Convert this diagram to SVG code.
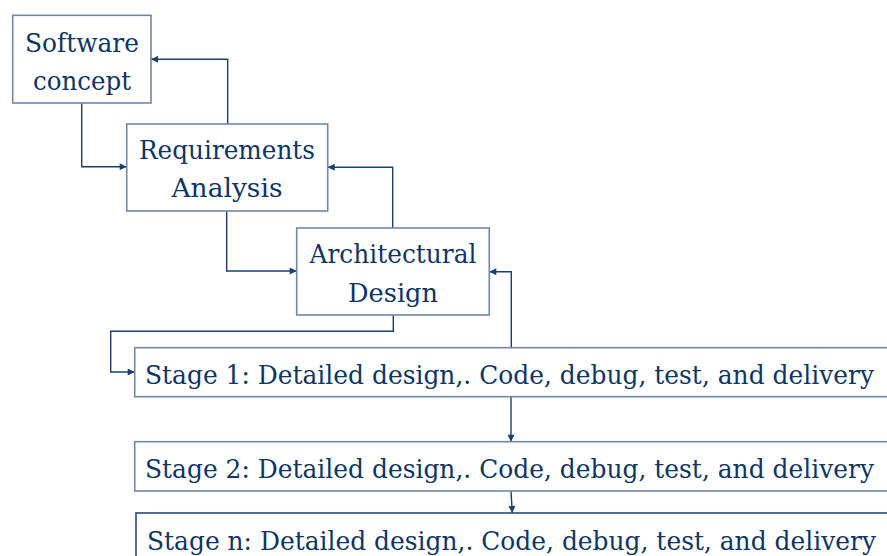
<svg xmlns="http://www.w3.org/2000/svg" width="887" height="556" viewBox="0 0 887 556">
  <style>
    .box { fill: #ffffff; stroke: #7088a8; stroke-width: 1.6; }
    .box-dark { fill: #ffffff; stroke: #284a78; stroke-width: 1.6; }
    .label { font-family: 'DejaVu Serif', 'Liberation Serif', serif; font-size: 25.3px; fill: #0e3564; }
    .mid { text-anchor: middle; }
    .conn { fill: none; stroke: #1a3f6c; stroke-width: 1.4; }
  </style>
  <defs>
    <marker id="arrow" viewBox="0 0 10 10" refX="10" refY="5" markerWidth="9" markerHeight="7" markerUnits="userSpaceOnUse" orient="auto">
      <path d="M0,0 L10,5 L0,10 z" fill="#1a3f6c"/>
    </marker>
  </defs>
  <rect width="887" height="556" fill="#ffffff"/>

  <g id="connectors">
    <path class="conn" d="M81.7,103 V166.7 H126.7" marker-end="url(#arrow)"/>
    <path class="conn" d="M227.7,124 V59.3 H151" marker-end="url(#arrow)"/>
    <path class="conn" d="M226.7,211 V271 H296.7" marker-end="url(#arrow)"/>
    <path class="conn" d="M392.7,228 V167.3 H327.7" marker-end="url(#arrow)"/>
    <path class="conn" d="M393.3,315 V331.3 H110.7 V372 H134.7" marker-end="url(#arrow)"/>
    <path class="conn" d="M511.3,347.7 V271.7 H489.3" marker-end="url(#arrow)"/>
    <path class="conn" d="M511,396.7 V441.7" marker-end="url(#arrow)"/>
    <path class="conn" d="M511,491 L512.3,513" marker-end="url(#arrow)"/>
  </g>

  <g id="software-concept">
    <rect class="box" x="12.7" y="15.3" width="138.3" height="87.7"/>
    <text class="label mid" x="82" y="52.3" textLength="114" lengthAdjust="spacingAndGlyphs">Software</text>
    <text class="label mid" x="82" y="90" textLength="98" lengthAdjust="spacingAndGlyphs">concept</text>
  </g>

  <g id="requirements-analysis">
    <rect class="box" x="126.7" y="124" width="201" height="87"/>
    <text class="label mid" x="227" y="158.5" textLength="176" lengthAdjust="spacingAndGlyphs">Requirements</text>
    <text class="label mid" x="227" y="196.5" textLength="111" lengthAdjust="spacingAndGlyphs">Analysis</text>
  </g>

  <g id="architectural-design">
    <rect class="box" x="296.7" y="228" width="192.6" height="87"/>
    <text class="label mid" x="393" y="263.3" textLength="167" lengthAdjust="spacingAndGlyphs">Architectural</text>
    <text class="label mid" x="393" y="301.7" textLength="90" lengthAdjust="spacingAndGlyphs">Design</text>
  </g>

  <g id="stage-1">
    <rect class="box" x="134.7" y="347.7" width="770" height="49"/>
    <text class="label" x="145" y="384" textLength="729" lengthAdjust="spacingAndGlyphs">Stage 1: Detailed design,. Code, debug, test, and delivery</text>
  </g>

  <g id="stage-2">
    <rect class="box" x="134.7" y="441.7" width="770" height="49.3"/>
    <text class="label" x="145" y="478.3" textLength="729" lengthAdjust="spacingAndGlyphs">Stage 2: Detailed design,. Code, debug, test, and delivery</text>
  </g>

  <g id="stage-n">
    <rect class="box-dark" x="136" y="513" width="770" height="60"/>
    <text class="label" x="147" y="550" textLength="729" lengthAdjust="spacingAndGlyphs">Stage n: Detailed design,. Code, debug, test, and delivery</text>
  </g>
</svg>
